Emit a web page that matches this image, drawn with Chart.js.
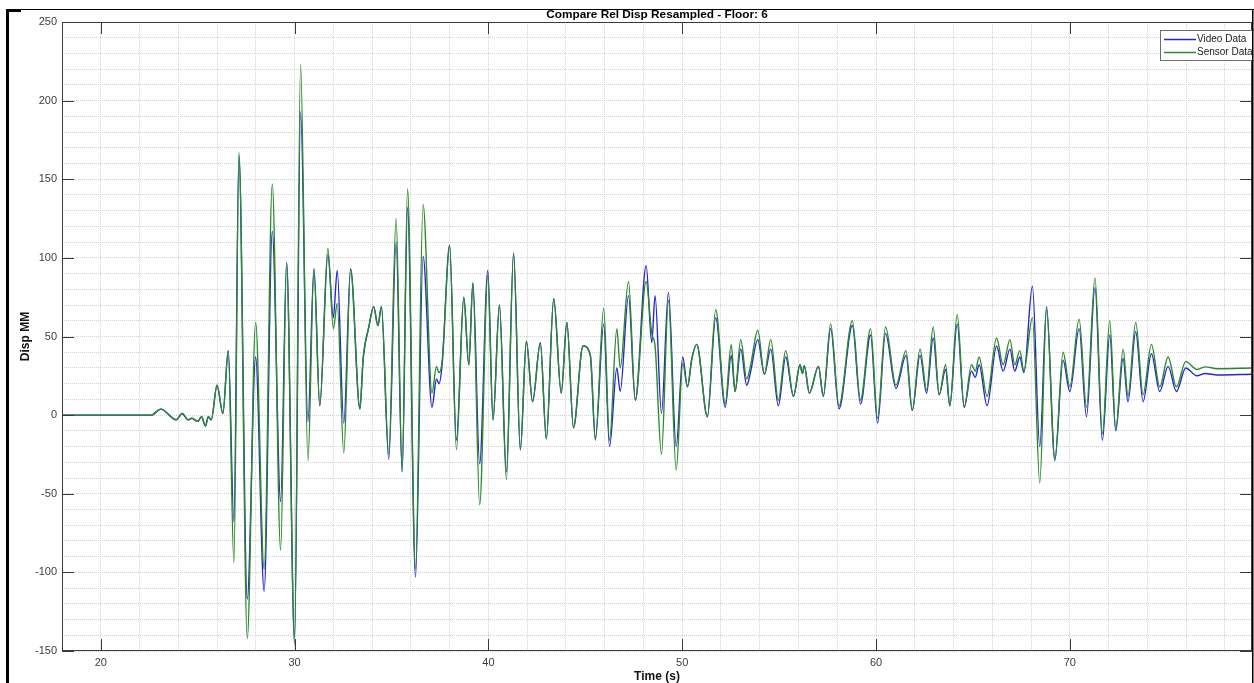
<!DOCTYPE html>
<html>
<head>
<meta charset="utf-8">
<title>Compare Rel Disp Resampled - Floor: 6</title>
<script src="https://cdn.jsdelivr.net/npm/chart.js"></script>
<style>
  html, body { margin: 0; padding: 0; background: #fff; }
  #wrap { width: 1254px; height: 683px; }
</style>
</head>
<body>
<div id="wrap"><canvas id="dispChart" width="1254" height="683"></canvas></div>
<script>
// time axis (s) - peaks / troughs
const time = [
  18.0, 22.6, 23.1, 23.9, 24.2, 24.5, 24.7, 25.0, 25.2, 25.4, 25.55, 25.7,
  26.0, 26.3, 26.58, 26.87, 27.13, 27.56, 27.99, 28.43, 28.85, 29.28, 29.59, 30.0,
  30.31, 30.69, 31.0, 31.3, 31.72, 32.0, 32.2, 32.54, 32.89, 33.37, 33.54, 33.83,
  34.08, 34.3, 34.48, 34.86, 35.24, 35.55, 35.83, 36.24, 36.63, 37.09, 37.32, 37.45,
  37.62, 38.0, 38.35, 38.73, 38.99, 39.2, 39.55, 39.97, 40.24, 40.57, 40.93, 41.3,
  41.65, 41.96, 42.28, 42.68, 42.99, 43.37, 43.76, 44.05, 44.39, 44.88, 45.26, 45.52,
  45.95, 46.25, 46.63, 46.8, 47.23, 47.58, 48.14, 48.43, 48.6, 48.93, 49.29, 49.69,
  50.03, 50.27, 50.5, 50.75, 51.3, 51.73, 52.22, 52.53, 52.73, 53.02, 53.33, 53.52,
  53.9, 54.24, 54.57, 54.96, 55.34, 55.74, 56.08, 56.2, 56.3, 56.56, 57.03, 57.28,
  57.66, 58.09, 58.78, 59.2, 59.72, 60.08, 60.49, 61.03, 61.55, 61.87, 62.27, 62.61,
  62.95, 63.26, 63.59, 63.81, 64.19, 64.55, 64.93, 65.12, 65.32, 65.73, 66.22, 66.56,
  66.91, 67.16, 67.42, 67.63, 68.07, 68.45, 68.8, 69.23, 69.65, 70.0, 70.48, 70.86,
  71.3, 71.68, 72.06, 72.37, 72.75, 73.0, 73.4, 73.78, 74.21, 74.64, 75.07, 75.5,
  75.98, 76.55, 77.0, 77.6, 79.4
];

// Video Data (mm)
const videoData = [
  0, 0, 3.8, -3, 1, -3, -2, -4, -1, -7, -1, -3,
  19, 1, 41, -68, 165, -117, 37, -112, 117, -55, 97, -142,
  193, -4, 93, 6, 102, 62, 92, -5, 93, 4, 36, 56,
  69, 57, 69, -28, 110, -36, 132, -103, 101, 5, 23, 20,
  33, 108, -16, 75, 32, 84, -31, 92, -3, 70, -36, 103,
  -22, 47, 8.5, 46, -15, 74, 14, 59, -8, 44, 38, -15,
  58, -20, 30, 15, 76, 9.5, 95, 46, 76, 1, 78, -20,
  37, 18, 36, 45, -1, 62, 5, 38, 15, 42, 19, 27,
  48, 26, 42, 6, 37, 12, 32, 26.5, 31.5, 14, 31, 12,
  55, 4, 57, 7, 51, -5, 52, 17, 38, 3, 38, 14,
  49, 13, 29, 6, 58, 5, 28, 24, 32, 6, 44, 28,
  42, 28, 37, 27, 82, -20, 69, -28, 35, 15, 55, -1,
  81, -16, 51, -10, 36, 8.5, 53, 8.5, 39, 15, 31, 15,
  30, 25, 26.5, 25.5, 26
];

// Sensor Data (mm)
const sensorData = [
  0, 0, 3.8, -3, 1, -3, -2, -4, -1, -7, -1, -3,
  19, 1, 41, -94, 167, -142, 59, -98, 147, -86, 97, -146,
  223, -29, 93, 6, 106, 55, 71, -24, 93, 4, 36, 56,
  69, 57, 69, -25, 125, -36, 144, -98, 134, 14, 31, 27,
  35, 108, -22, 75, 32, 84, -57, 89, -3, 70, -41, 103,
  -22, 47, 8.5, 46, -15, 74, 14, 59, -8, 44, 38, -16,
  68, -16, 55, 30, 85, 9.5, 85, 52, 44, -25, 73, -35,
  33, 18, 36, 45, -1, 67, 7, 45, 15, 48, 23, 31,
  54, 26, 48, 9.5, 41, 12, 32, 26.5, 31.5, 14, 31, 12,
  58, 6, 60, 9.5, 55, -2, 56, 19, 41, 3, 42, 16,
  56, 13, 32, 6, 64, 5, 32, 28, 37, 12, 49, 32,
  48, 32, 41, 28, 62, -43, 67, -29, 40, 18, 61, 5,
  87, -12, 60, -9, 42, 12, 59, 13, 45, 18, 37, 18,
  34, 29, 30.7, 29.5, 30
];

const xMajor = 10;   // labelled x ticks
const yMajor = 50;   // labelled y ticks

function isMultiple(v, m) {
  return Math.abs(v / m - Math.round(v / m)) < 1e-6;
}

function toPoints(xs, ys) {
  return xs.map((x, i) => ({ x: x, y: ys[i] }));
}

// axes box, inward ticks, legend and the figure frame (matlab look)
const matlabFrame = {
  id: 'matlabFrame',
  afterDraw(chart) {
    const { ctx, chartArea: a, scales } = chart;
    ctx.save();

    ctx.strokeStyle = '#3a3a3a';
    ctx.lineWidth = 1;
    ctx.strokeRect(a.left + 0.5, a.top + 0.5, a.right - a.left - 1, a.bottom - a.top - 1);

    ctx.beginPath();
    scales.x.ticks.forEach(t => {
      if (!isMultiple(t.value, xMajor)) return;
      const px = Math.round(scales.x.getPixelForValue(t.value)) + 0.5;
      ctx.moveTo(px, a.bottom); ctx.lineTo(px, a.bottom - 12);
      ctx.moveTo(px, a.top); ctx.lineTo(px, a.top + 12);
    });
    scales.y.ticks.forEach(t => {
      if (!isMultiple(t.value, yMajor)) return;
      const py = Math.round(scales.y.getPixelForValue(t.value)) + 0.5;
      ctx.moveTo(a.left, py); ctx.lineTo(a.left + 12, py);
      ctx.moveTo(a.right, py); ctx.lineTo(a.right - 12, py);
    });
    ctx.stroke();

    // legend box, top right
    const lx = 1160, ly = 30, lw = 110, lh = 30;
    ctx.fillStyle = '#fff';
    ctx.fillRect(lx, ly, lw, lh);
    ctx.strokeStyle = '#6e6e6e';
    ctx.strokeRect(lx + 0.5, ly + 0.5, lw, lh);
    ctx.font = '10px "Liberation Sans", Arial, sans-serif';
    ctx.textBaseline = 'middle';
    chart.data.datasets.forEach((ds, i) => {
      const cy = ly + 9.5 + i * 13;
      ctx.strokeStyle = ds.borderColor;
      ctx.lineWidth = 1.5;
      ctx.beginPath();
      ctx.moveTo(lx + 4, cy); ctx.lineTo(lx + 36, cy);
      ctx.stroke();
      ctx.fillStyle = '#1a1a1a';
      ctx.fillText(ds.label, lx + 37, cy);
    });

    // screenshot frame
    ctx.fillStyle = '#000';
    ctx.fillRect(6, 9, 3, 674);
    ctx.fillRect(6, 9, 1248, 1);
    ctx.fillRect(6, 9, 15, 3);
    ctx.fillRect(1252, 9, 1.5, 674);
    ctx.restore();
  }
};

const tickFont = { family: '"Liberation Sans", Arial, sans-serif', size: 11 };

new Chart('dispChart', {
  type: 'line',
  data: {
    datasets: [{
      label: 'Video Data',
      data: toPoints(time, videoData),
      borderColor: '#2626d2',
      borderWidth: 1.4,
      pointRadius: 0,
      cubicInterpolationMode: 'monotone',
      order: 1
    }, {
      label: 'Sensor Data',
      data: toPoints(time, sensorData),
      borderColor: '#2c8a2c',
      borderWidth: 1.4,
      pointRadius: 0,
      cubicInterpolationMode: 'monotone',
      order: 0
    }]
  },
  options: {
    responsive: false,
    animation: false,
    devicePixelRatio: 1,
    layout: { padding: { left: 0, right: 2, top: 0, bottom: 0 } },
    plugins: {
      legend: { display: false },
      tooltip: { enabled: false },
      title: {
        display: true,
        text: 'Compare Rel Disp Resampled - Floor: 6',
        fullSize: false,
        color: '#000',
        font: { family: tickFont.family, size: 11.8, weight: 'bold', lineHeight: '13px' },
        padding: { top: 8, bottom: 1 }
      }
    },
    scales: {
      x: {
        type: 'linear',
        min: 18,
        max: 79.4,
        afterFit: s => { s.height = 32; },
        ticks: {
          stepSize: 2,
          includeBounds: false,
          maxTicksLimit: 1000,
          autoSkip: false,
          maxRotation: 0,
          padding: 5,
          color: '#3c3c3c',
          font: tickFont,
          callback: v => isMultiple(v, xMajor) ? String(Math.round(v)) : ''
        },
        grid: { color: '#d4d4d4', drawTicks: false },
        border: { display: false, dash: [1, 1] },
        title: {
          display: true,
          text: 'Time (s)',
          color: '#111',
          font: { family: tickFont.family, size: 12, weight: 'bold', lineHeight: 1 },
          padding: 0
        }
      },
      y: {
        min: -150,
        max: 250,
        afterFit: s => { s.width = 62; },
        ticks: {
          stepSize: 10,
          maxTicksLimit: 1000,
          autoSkip: false,
          padding: 5,
          color: '#3c3c3c',
          font: tickFont,
          callback: v => isMultiple(v, yMajor) ? String(Math.round(v)) : ''
        },
        grid: { color: '#d4d4d4', drawTicks: false },
        border: { display: false, dash: [1, 1] },
        title: {
          display: true,
          text: 'Disp MM',
          color: '#111',
          font: { family: tickFont.family, size: 12, weight: 'bold', lineHeight: 1 },
          padding: { top: 20, bottom: 0 }
        }
      }
    }
  },
  plugins: [matlabFrame]
});
</script>
</body>
</html>
